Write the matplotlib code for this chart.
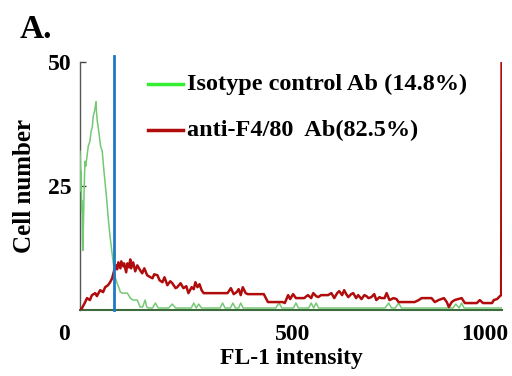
import matplotlib
matplotlib.use("Agg")
import matplotlib.pyplot as plt
from matplotlib.lines import Line2D
import matplotlib.transforms as mtransforms

# ---- data (FL-1 intensity channel, cell number) ----
green_x = [0, 1, 2, 3, 4, 5, 6, 7, 8, 10, 12, 14, 17, 20, 24, 27, 30, 32, 35, 37, 39,
           40, 42, 44, 47, 50, 54, 57, 61, 64, 68, 72, 76, 80, 83, 86, 90, 94, 98, 102,
           106, 110, 115, 122, 129, 139, 146, 152, 158, 162, 166, 176, 183, 190, 200,
           215, 224, 232, 256, 270, 276, 282, 288, 295, 305, 340, 346, 352, 365, 371,
           377, 385, 390, 396, 475, 483, 490, 518, 524, 530, 555, 561, 567, 573, 579,
           740, 749, 756, 765, 773, 780, 905, 912, 920, 926, 932, 1023]
green_y = [32, 30, 24, 28, 20, 22, 14, 12, 16, 24, 30, 29, 31, 33, 34, 36, 37, 39, 40, 41, 42,
           40, 38, 37, 35, 33, 32, 29, 25.6, 23, 19, 15.5, 12.7, 10, 8, 6.5, 5.4, 4.6, 3.6, 3.4,
           3.4, 3.4, 3.4, 2.4, 2.0, 2.0, 0.6, 0.6, 2.0, 0.6, 0.4, 0.4, 1.4, 0.4, 0.4,
           0.4, 1.2, 0.4, 0.4, 0.4, 1.4, 0.4, 1.2, 0.4, 0.4, 0.4, 1.4, 0.4, 0.4, 1.4,
           0.4, 0.4, 1.4, 0.4, 0.4, 1.4, 0.4, 0.4, 1.4, 0.4, 0.4, 1.4, 0.4, 1.4, 0.4,
           0.4, 1.4, 0.4, 0.4, 1.4, 0.4, 0.4, 1.2, 0.4, 1.4, 0.4, 0.4]

red_x = [0, 5, 12, 17, 24, 29, 37, 41, 49, 56, 61, 68, 73, 78, 83, 88, 90, 93, 98, 100,
         105, 107, 112, 115, 119, 122, 124, 129, 134, 139, 146, 151, 156, 163, 171, 176,
         180, 188, 193, 200, 205, 212, 219, 224, 232, 236, 244, 251, 258, 263, 271, 276,
         280, 285, 290, 295, 300, 358, 366, 373, 380, 385, 390, 395, 402, 407, 446, 456,
         492, 497, 505, 510, 517, 524, 544, 553, 561, 566, 573, 578, 585, 602, 610, 617,
         624, 629, 636, 641, 646, 651, 658, 663, 670, 675, 683, 690, 695, 700, 707, 714,
         719, 727, 731, 739, 744, 751, 761, 768, 773, 812, 822, 829, 853, 861, 870, 883,
         890, 895, 902, 909, 926, 934, 963, 970, 978, 1000, 1004, 1012, 1019, 1022, 1023]
red_y = [0, 0.4, 1.5, 2.4, 2.0, 3.0, 3.4, 2.8, 4.0, 3.6, 4.6, 5.0, 5.6, 6.4, 8.0, 9.0, 8.2, 9.6, 8.4, 9.8,
         8.8, 9.4, 7.6, 9.4, 8.6, 10.2, 8.4, 9.6, 7.8, 9.0, 8.0, 7.4, 8.4, 7.0, 6.6, 6.4,
         7.2, 7.0, 6.0, 5.6, 6.6, 5.0, 5.8, 5.4, 4.4, 4.6, 5.4, 4.4, 4.8, 3.4, 4.6, 4.2,
         5.6, 4.6, 5.2, 4.0, 3.4, 3.4, 4.4, 3.2, 3.6, 4.2, 3.0, 4.6, 3.4, 3.2, 3.2, 1.6,
         1.6, 1.4, 3.0, 2.2, 3.2, 2.4, 2.4, 3.0, 2.4, 3.4, 2.8, 2.6, 3.0, 3.0, 3.4, 2.4,
         3.4, 3.8, 3.0, 4.0, 3.2, 2.6, 3.2, 3.4, 2.4, 3.0, 2.2, 3.0, 2.8, 2.4, 2.6, 3.2,
         2.0, 2.6, 2.4, 2.4, 3.4, 2.0, 2.4, 2.2, 1.6, 1.6, 2.0, 2.4, 2.4, 1.6, 2.0, 2.4,
         1.6, 0.6, 1.6, 2.0, 2.4, 1.4, 1.4, 2.0, 1.4, 1.4, 2.0, 2.2, 2.8, 3.0, 50]

gate_x = 83
series_labels = ["Isotype control Ab (14.8%)", "anti-F4/80  Ab(82.5%)"]
x_ticks = [0, 500, 1000]
y_ticks = [25, 50]

SERIF = ["Liberation Serif", "DejaVu Serif"]

fig = plt.figure(figsize=(5.12, 3.76), dpi=100)
ax = fig.add_axes([80/512, 1-310/376, 422/512, 248/376])

ax.plot(green_x, green_y, color="#74c974", lw=1.1, zorder=3)
ax.plot(red_x, red_y, color="#b00c0c", lw=1.8, zorder=4)
ax.plot([gate_x, gate_x], [0, 51.3], color="#1f78c8", lw=2.0, zorder=5, clip_on=False)

ax.set_xlim(0, 1024)
ax.set_ylim(0, 50)

for s in ["top", "right"]:
    ax.spines[s].set_visible(False)
ax.spines["left"].set_color("#555555")
ax.spines["left"].set_linewidth(1.0)
ax.spines["bottom"].set_color("#3d6b3d")
ax.spines["bottom"].set_linewidth(1.5)

ax.set_yticks(y_ticks)
ax.set_yticklabels([str(v) for v in y_ticks], fontfamily=SERIF, fontweight="bold", fontsize=17)
ax.tick_params(axis="y", direction="in", length=4, width=1, color="#444444", pad=6)

ax.set_xticks(x_ticks)
ax.set_xticklabels([str(v) for v in x_ticks], fontfamily=SERIF, fontweight="bold", fontsize=17)
ax.tick_params(axis="x", length=0, pad=10)
offsets = [-16, 7, -7]
for lab, dx in zip(ax.get_xticklabels(), offsets):
    lab.set_transform(lab.get_transform() + mtransforms.ScaledTranslation(dx/100, 0, fig.dpi_scale_trans))

ax.set_xlabel("FL-1 intensity", fontfamily=SERIF, fontweight="bold", fontsize=17, labelpad=2)
ax.set_ylabel("Cell number", fontfamily=SERIF, fontweight="bold", fontsize=18, labelpad=9)

# legend drawn manually
leg_colors = ["#33ee33", "#b00c0c"]
leg_y = [1-84/376, 1-130/376]
for lab, col, yy in zip(series_labels, leg_colors, leg_y):
    fig.add_artist(Line2D([148/512, 183/512], [yy, yy], color=col, lw=2.5, transform=fig.transFigure))
    fig.text(187/512, yy, lab, fontfamily=SERIF, fontweight="bold", fontsize=17.5,
             va="center", ha="left")

fig.text(20/512, 1-30/376, "A.", fontfamily=SERIF, fontweight="bold", fontsize=24,
         va="center", ha="left")

fig.savefig("out.png", dpi=100)
